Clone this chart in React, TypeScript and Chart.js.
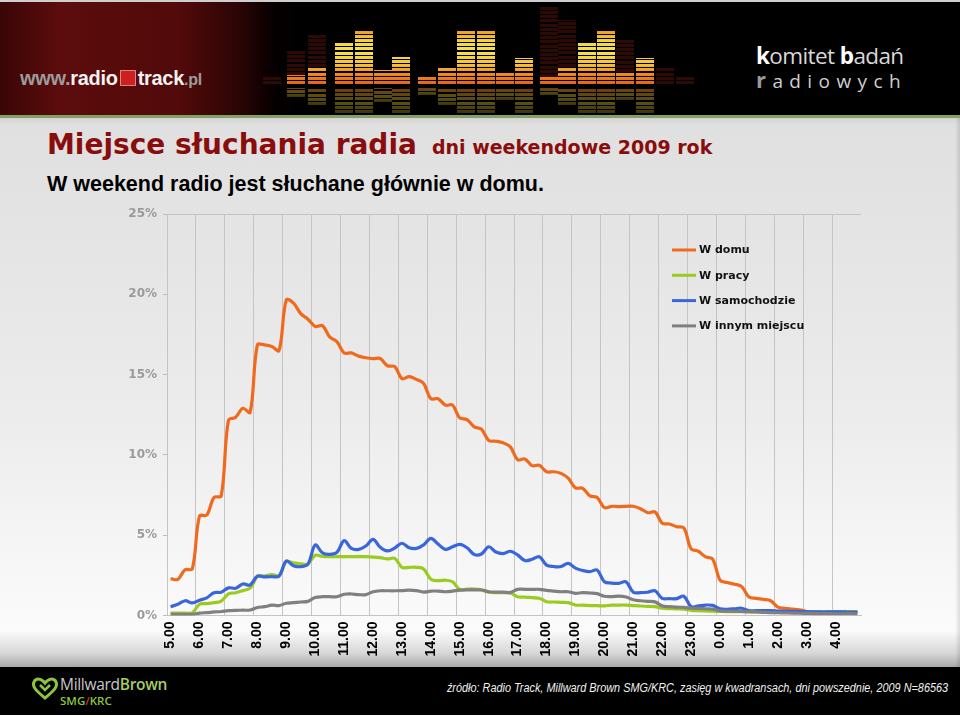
import React, { useEffect, useRef } from 'react';
import { Chart, registerables } from 'chart.js';

Chart.register(...registerables);

// ---------------- DATA ----------------
const hourLabels = ['5.00', '6.00', '7.00', '8.00', '9.00', '10.00', '11.00', '12.00', '13.00', '14.00', '15.00', '16.00', '17.00', '18.00', '19.00', '20.00', '21.00', '22.00', '23.00', '0.00', '1.00', '2.00', '3.00', '4.00'];
const quarterSuffixes = ['00', '15', '30', '45'];
const categories = hourLabels.flatMap((h) => quarterSuffixes.map((q) => h.replace('.00', '.' + q)));

const seriesNames = ['W domu', 'W pracy', 'W samochodzie', 'W innym miejscu'];
const seriesColors = ['#f06a1e', '#9acb1e', '#3a66dc', '#808080'];

const yTicks = [0, 5, 10, 15, 20, 25];

const wDomu = [
  2.3, 2.25, 2.85, 2.9, 6.2, 6.25, 7.35, 7.45,
  12.15, 12.35, 12.9, 12.65, 16.85, 16.85, 16.75, 16.5,
  19.65, 19.45, 18.8, 18.45, 18.0, 18.05, 17.35, 17.05,
  16.35, 16.35, 16.15, 16.05, 16.0, 16.0, 15.55, 15.5,
  14.75, 14.87, 14.7, 14.45, 13.5, 13.5, 13.1, 13.1,
  12.3, 12.2, 11.75, 11.6, 10.9, 10.85, 10.75, 10.5,
  9.7, 9.75, 9.33, 9.35, 8.95, 8.95, 8.85, 8.55,
  7.95, 7.92, 7.45, 7.35, 6.72, 6.8, 6.78, 6.8,
  6.8, 6.65, 6.4, 6.45, 5.75, 5.7, 5.53, 5.45,
  4.15, 4.0, 3.65, 3.5, 2.2, 2.05, 1.95, 1.8,
  1.15, 1.07, 1.0, 0.92, 0.52, 0.45, 0.4, 0.35,
  0.25, 0.22, 0.2, 0.2, 0.18, 0.18, 0.17, 0.17,
];

const wPracy = [
  0.15, 0.15, 0.15, 0.17, 0.7, 0.74, 0.8, 0.9,
  1.35, 1.42, 1.55, 1.7, 2.42, 2.46, 2.55, 2.48,
  3.35, 3.28, 3.22, 3.22, 3.75, 3.68, 3.66, 3.66,
  3.66, 3.66, 3.66, 3.66, 3.64, 3.6, 3.52, 3.56,
  3.0, 3.0, 3.0, 2.9, 2.25, 2.17, 2.2, 2.1,
  1.62, 1.64, 1.65, 1.6, 1.45, 1.42, 1.42, 1.4,
  1.17, 1.15, 1.11, 1.07, 0.86, 0.84, 0.82, 0.8,
  0.65, 0.64, 0.62, 0.61, 0.6, 0.64, 0.65, 0.65,
  0.62, 0.59, 0.57, 0.55, 0.45, 0.43, 0.41, 0.39,
  0.32, 0.3, 0.28, 0.27, 0.25, 0.24, 0.24, 0.24,
  0.23, 0.23, 0.22, 0.22, 0.22, 0.22, 0.22, 0.22,
  0.22, 0.22, 0.22, 0.23, 0.24, 0.25, 0.25, 0.25,
];

const wSamochodzie = [
  0.55, 0.7, 0.92, 0.78, 0.95, 1.1, 1.42, 1.45,
  1.72, 1.7, 1.96, 1.9, 2.45, 2.4, 2.42, 2.45,
  3.39, 3.1, 3.04, 3.2, 4.39, 3.9, 3.81, 3.93,
  4.66, 4.18, 4.12, 4.33, 4.74, 4.25, 4.02, 4.2,
  4.5, 4.22, 4.18, 4.4, 4.8, 4.45, 4.12, 4.28,
  4.43, 4.22, 3.8, 3.83, 4.28, 3.95, 3.85, 4.0,
  3.77, 3.42, 3.5, 3.66, 3.14, 3.05, 3.05, 3.25,
  2.95, 2.8, 2.73, 2.83, 2.1, 2.02, 2.0, 2.1,
  1.45, 1.42, 1.45, 1.54, 1.07, 1.05, 1.05, 1.2,
  0.55, 0.6, 0.65, 0.63, 0.42, 0.39, 0.42, 0.45,
  0.3, 0.3, 0.3, 0.3, 0.28, 0.27, 0.26, 0.25,
  0.24, 0.23, 0.22, 0.22, 0.22, 0.22, 0.21, 0.21,
];

const wInnymMiejscu = [
  0.08, 0.07, 0.07, 0.07, 0.15, 0.18, 0.22, 0.25,
  0.3, 0.32, 0.33, 0.34, 0.5, 0.55, 0.65, 0.62,
  0.76, 0.8, 0.84, 0.88, 1.12, 1.17, 1.17, 1.17,
  1.32, 1.34, 1.3, 1.3, 1.48, 1.54, 1.54, 1.54,
  1.55, 1.58, 1.55, 1.46, 1.52, 1.52, 1.48, 1.52,
  1.58, 1.6, 1.6, 1.59, 1.48, 1.46, 1.45, 1.44,
  1.63, 1.63, 1.63, 1.63, 1.56, 1.52, 1.48, 1.48,
  1.38, 1.42, 1.4, 1.36, 1.2, 1.18, 1.21, 1.15,
  0.98, 0.92, 0.88, 0.85, 0.6, 0.55, 0.52, 0.5,
  0.45, 0.44, 0.42, 0.4, 0.28, 0.27, 0.26, 0.25,
  0.24, 0.22, 0.2, 0.18, 0.17, 0.16, 0.15, 0.14,
  0.13, 0.12, 0.12, 0.12, 0.11, 0.11, 0.11, 0.1,
];

const seriesValues = [wDomu, wPracy, wSamochodzie, wInnymMiejscu];

// ---------------- PLUGINS ----------------
const frameAndLegend = {
  id: 'frameAndLegend',
  afterDraw(chart: any) {
    const { ctx, chartArea } = chart;
    ctx.save();
    ctx.strokeStyle = '#c4c4c4';
    ctx.lineWidth = 1;
    ctx.beginPath();
    ctx.moveTo(chartArea.left, Math.round(chartArea.top) + 0.5);
    ctx.lineTo(chartArea.right, Math.round(chartArea.top) + 0.5);
    ctx.stroke();
    const lx = chartArea.left + 505;
    const ly = chartArea.top + 36;
    ctx.font = 'bold 11px "DejaVu Sans"';
    ctx.textBaseline = 'middle';
    ctx.textAlign = 'left';
    chart.data.datasets.forEach((ds: any, i: number) => {
      const y = ly + i * 25.3;
      ctx.strokeStyle = ds.borderColor;
      ctx.lineWidth = 3;
      ctx.beginPath();
      ctx.moveTo(lx, y);
      ctx.lineTo(lx + 24, y);
      ctx.stroke();
      ctx.fillStyle = '#111';
      ctx.fillText(ds.label, lx + 27, y + 0.5);
    });
    ctx.restore();
  },
};

function LineChart() {
  const ref = useRef<HTMLCanvasElement | null>(null);
  useEffect(() => {
    if (!ref.current) return;
    const chart = new Chart(ref.current, {
      type: 'line',
      data: {
        labels: categories,
        datasets: seriesNames.map((name, i) => ({
          label: name,
          data: seriesValues[i],
          borderColor: seriesColors[i],
          backgroundColor: seriesColors[i],
          borderWidth: 3.2,
          pointRadius: 0,
          pointHoverRadius: 0,
          tension: 0.35,
          fill: false,
          order: 3 - i,
        })),
      },
      options: {
        animation: false,
        responsive: false,
        maintainAspectRatio: false,
        layout: { padding: { top: 14, right: 9, bottom: 0, left: 0 } },
        plugins: { legend: { display: false }, tooltip: { enabled: false } },
        scales: {
          x: {
            type: 'category',
            offset: true,
            afterFit: (s: any) => { s.height = 49.5; s.paddingLeft = 0; s.paddingRight = 0; },
            grid: {
              offset: true,
              drawTicks: false,
              lineWidth: 1,
              color: (c: any) => (c.index % 4 === 0 ? '#c4c4c4' : 'rgba(0,0,0,0)'),
            },
            border: { display: true, color: '#c4c4c4' },
            ticks: {
              autoSkip: false,
              maxRotation: 90,
              minRotation: 90,
              padding: 6,
              color: '#000',
              font: { family: '"Liberation Sans", Arial, sans-serif', weight: 'bold', size: 14 },
              callback: (_v: any, i: number) => (i % 4 === 0 ? hourLabels[i / 4] : ''),
            },
          },
          y: {
            min: 0,
            max: 25,
            afterFit: (s: any) => { s.width = 67; },
            afterBuildTicks: (s: any) => { s.ticks = yTicks.map((v) => ({ value: v })); },
            grid: { drawOnChartArea: false, drawTicks: true, tickLength: 4, color: '#bdbdbd' },
            border: { display: true, color: '#c4c4c4' },
            ticks: {
              padding: 6,
              color: '#9a9a9a',
              font: { family: '"DejaVu Sans", Verdana, sans-serif', weight: 'bold', size: 12 },
              callback: (v: any) => v + '%',
            },
          },
        },
      },
      plugins: [frameAndLegend],
    } as any);
    return () => chart.destroy();
  }, []);
  return <canvas ref={ref} width={770} height={465} style={{ position: 'absolute', left: 100, top: 200, width: 770, height: 465 }} />;
}

// ---------------- DECORATION ----------------
const eqColumns = [
  { x: 263, b: 84, d: 77 }, { x: 287, b: 75, d: 50 }, { x: 308, b: 67, d: 33 },
  { x: 335, b: 43, d: 43 }, { x: 355, b: 29, d: 29 }, { x: 374, b: 70, d: 70 },
  { x: 392, b: 57, d: 57 }, { x: 418, b: 77, d: 77 }, { x: 438, b: 67, d: 67 },
  { x: 457, b: 30, d: 30 }, { x: 477, b: 30, d: 30 }, { x: 496, b: 72, d: 72 },
  { x: 515, b: 58, d: 58 }, { x: 540, b: 77, d: 7 }, { x: 558, b: 67, d: 20 },
  { x: 578, b: 43, d: 43 }, { x: 597, b: 30, d: 30 }, { x: 616, b: 72, d: 40 },
  { x: 636, b: 58, d: 58 }, { x: 656, b: 84, d: 67 }, { x: 676, b: 84, d: 77 },
];
const stripes = 'repeating-linear-gradient(to top, rgba(0,0,0,0) 0px, rgba(0,0,0,0) 3px, #000 3px, #000 4.2px)';
const brightGrad = 'linear-gradient(to top, #e2641a 0px, #f08a22 10px, #f5c232 20px, #f5e24a 32px, #f2d843 42px, #f0a02a 52px, #e87a20 60px)';

function Header() {
  return (
    <div style={{ position: 'absolute', left: 0, top: 0, width: 960, height: 115, overflow: 'hidden',
      background: 'linear-gradient(to right, #3a0606 0px, #5c0c0c 60px, #520a0a 180px, #2a0404 240px, #050000 275px, #000 300px)' }}>
      <div style={{ position: 'absolute', left: 0, top: 0, width: 960, height: 2, background: '#cfcfcf' }} />
      {eqColumns.map((c, i) => (
        <React.Fragment key={i}>
          {c.d < c.b && (
            <div style={{ position: 'absolute', left: c.x, top: c.d, width: 18, height: c.b - c.d,
              background: `${stripes}, #2e0a06`, backgroundPosition: 'bottom' }} />
          )}
          {c.b < 84 && (
            <div style={{ position: 'absolute', left: c.x, top: c.b, width: 18, height: 84 - c.b,
              background: `${stripes}, ${brightGrad}`, backgroundPosition: 'bottom', backgroundSize: '100% 100%, 100% 60px', backgroundRepeat: 'repeat, no-repeat' }} />
          )}
          {c.b < 84 && (
            <div style={{ position: 'absolute', left: c.x, top: 88, width: 18, height: Math.min(84 - c.b, 25),
              background: `${stripes}, linear-gradient(to bottom, #9a5a14, #7a7418 60%, #5a4a10)`, opacity: 0.7 }} />
          )}
        </React.Fragment>
      ))}
      <div style={{ position: 'absolute', left: 20, top: 66, fontFamily: '"Liberation Sans", Arial, sans-serif', fontWeight: 'bold', fontSize: 20, whiteSpace: 'nowrap', lineHeight: '24px', letterSpacing: -0.3 }}>
        <span style={{ color: '#9c9c9c' }}>www.</span>
        <span style={{ color: '#f2f2f2' }}>radio</span>
        <span style={{ display: 'inline-block', width: 14, height: 14, background: '#cc2020', border: '1px solid #e08080', margin: '0 2px -1px 2px' }} />
        <span style={{ color: '#f2f2f2' }}>track</span>
        <span style={{ color: '#9c9c9c', fontSize: 16 }}>.pl</span>
      </div>
      <div style={{ position: 'absolute', left: 756, top: 43, fontFamily: '"Open Sans", sans-serif', fontSize: 22.5, color: '#d8d8d8', whiteSpace: 'nowrap', lineHeight: '26px', letterSpacing: -0.6 }}>
        <span style={{ color: '#fff', fontWeight: 'bold' }}>k</span>omitet <span style={{ color: '#fff', fontWeight: 'bold' }}>b</span>adań
      </div>
      <div style={{ position: 'absolute', left: 756, top: 67, fontFamily: '"Open Sans", sans-serif', fontSize: 19, color: '#cfcfcf', whiteSpace: 'nowrap', lineHeight: '24px', letterSpacing: 6.4 }}>
        <span style={{ color: '#9a9a9a', fontWeight: 'bold', fontSize: 22 }}>r</span>adiowych
      </div>
    </div>
  );
}

function Footer() {
  return (
    <div style={{ position: 'absolute', left: 0, top: 667, width: 960, height: 48, background: '#000' }}>
      <svg width={28} height={24} style={{ position: 'absolute', left: 31, top: 9 }} viewBox="0 0 28 24">
        <path d="M14 22 C4 14 1 10 3 6 C5 2 10 2 14 7 C18 2 23 2 25 6 C27 10 24 14 14 22 Z" fill="none" stroke="#8cc63f" strokeWidth={3} />
        <path d="M9 9 L14 14 L19 9" fill="none" stroke="#8cc63f" strokeWidth={2.5} />
      </svg>
      <div style={{ position: 'absolute', left: 60, top: 8, fontFamily: '"Open Sans", sans-serif', fontSize: 15.5, whiteSpace: 'nowrap', lineHeight: '18px', letterSpacing: -0.3 }}>
        <span style={{ color: '#c8c8c8' }}>Millward</span><span style={{ color: '#a6cc62', fontWeight: 600 }}>Brown</span>
      </div>
      <div style={{ position: 'absolute', left: 60, top: 27, fontFamily: '"Open Sans", sans-serif', fontSize: 11.5, fontWeight: 600, whiteSpace: 'nowrap', lineHeight: '14px', color: '#8cc63f' }}>
        SMG<span style={{ color: '#d03030' }}>/</span>KRC
      </div>
      <div style={{ position: 'absolute', right: 12, top: 14, fontFamily: '"Liberation Sans", Arial, sans-serif', fontStyle: 'italic', fontSize: 12.5, color: '#f0f0f0', whiteSpace: 'nowrap', transform: 'scaleX(0.87)', transformOrigin: 'right center', lineHeight: '15px' }}>
        źródło: Radio Track, Millward Brown SMG/KRC, zasięg w kwadransach, dni powszednie, 2009 N=86563
      </div>
    </div>
  );
}

export default function App() {
  return (
    <div style={{ position: 'absolute', left: 0, top: 0, width: 960, height: 717, overflow: 'hidden', background: '#fff' }}>
      <div style={{ position: 'absolute', left: 0, top: 115, width: 960, height: 552,
        background: 'linear-gradient(to bottom, #b8b8b8 0px, #d6d6d6 4px, #e0e0e0 10px, #e3e3e3 90px, #ececec 300px, #f8f8f8 470px, #fbfbfb 515px, #d8d8d8 538px, #a8a8a8 552px)' }} />
      <div style={{ position: 'absolute', left: 0, top: 115, width: 960, height: 3, background: '#86a064' }} />
      <div style={{ position: 'absolute', right: 0, top: 118, width: 5, height: 549, background: 'linear-gradient(to right, rgba(0,0,0,0), rgba(0,0,0,0.12))' }} />
      <Header />
      <div style={{ position: 'absolute', left: 47, top: 127, whiteSpace: 'nowrap', color: '#8a0d0d', fontFamily: '"DejaVu Sans", Verdana, sans-serif', fontWeight: 'bold', lineHeight: '36px' }}>
        <span style={{ fontSize: 28 }}>Miejsce słuchania radia</span>
        <span style={{ fontSize: 19, marginLeft: 15 }}>dni weekendowe 2009 rok</span>
      </div>
      <div style={{ position: 'absolute', left: 47, top: 170, whiteSpace: 'nowrap', color: '#000', fontFamily: '"Liberation Sans", Arial, sans-serif', fontWeight: 'bold', fontSize: 21.5, lineHeight: '28px' }}>
        W weekend radio jest słuchane głównie w domu.
      </div>
      <LineChart />
      <Footer />
    </div>
  );
}
